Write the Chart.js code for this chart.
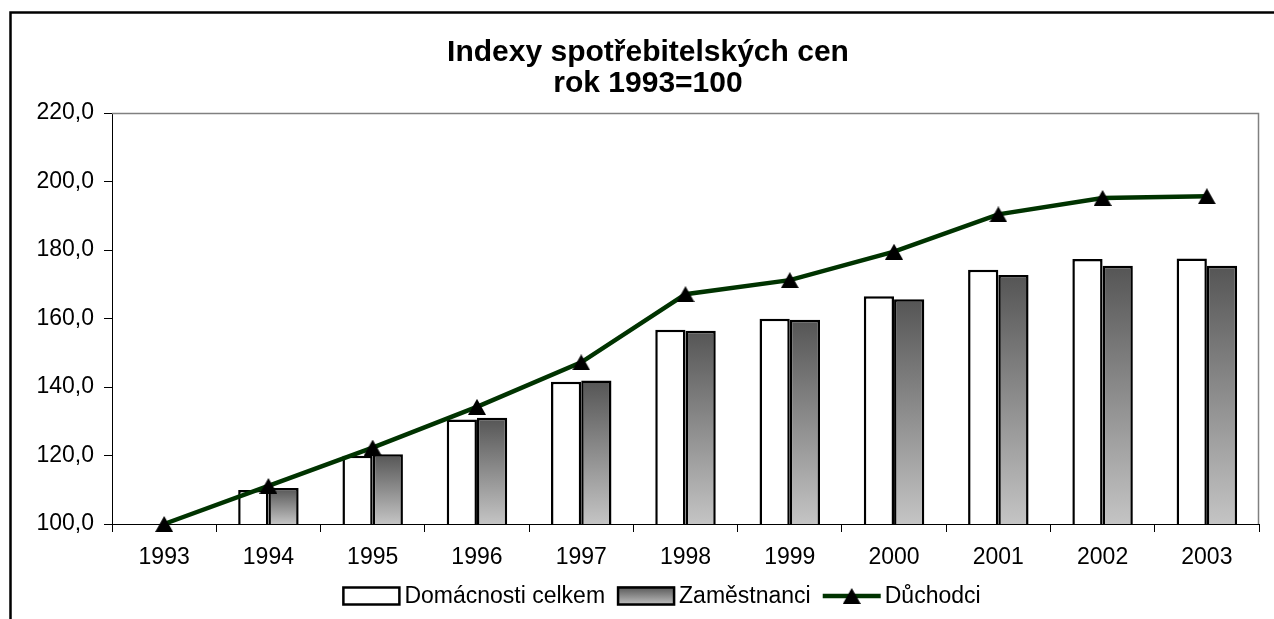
<!DOCTYPE html>
<html>
<head>
<meta charset="utf-8">
<script src="https://cdn.jsdelivr.net/npm/chart.js@4/dist/chart.umd.min.js"></script>
<style>
html,body{margin:0;padding:0;background:#fff;}
#wrap{position:relative;width:1274px;height:619px;}
</style>
</head>
<body>
<div id="wrap"><canvas id="c" width="1274" height="619"></canvas></div>
<script>
// ---- data ----
const years = ['1993','1994','1995','1996','1997','1998','1999','2000','2001','2002','2003'];
const domacnosti = [100.0, 109.9, 119.9, 130.5, 141.5, 156.7, 159.9, 166.5, 174.2, 177.4, 177.5];
const zamestnanci = [100.0, 110.5, 120.4, 131.0, 141.9, 156.4, 159.6, 165.6, 172.7, 175.4, 175.4];
const duchodci = [100.0, 111.1, 122.3, 134.2, 147.2, 167.1, 171.2, 179.5, 190.4, 195.2, 195.7];
const seriesNames = ['Domácnosti celkem', 'Zaměstnanci', 'Důchodci'];
const titleLines = ['Indexy spotřebitelských cen', 'rok 1993=100'];
const yMin = 100, yMax = 220, yStep = 20;

const FONT = '"Liberation Sans", Arial, sans-serif';
const LINE_COLOR = '#003300';
const GRAD_TOP = '#555555', GRAD_BOT = '#c4c4c4';

// triangle marker (centered by bounding box, as in the original)
function makeTriangle(w, h) {
  const cv = document.createElement('canvas');
  cv.width = w; cv.height = h;
  const g = cv.getContext('2d');
  g.fillStyle = '#000';
  g.beginPath();
  g.moveTo(w / 2, 0);
  g.lineTo(w, h);
  g.lineTo(0, h);
  g.closePath();
  g.fill();
  return cv;
}
const tri = makeTriangle(18, 16);

function barGradient(context) {
  const chart = context.chart;
  const ys = chart.scales && chart.scales.y;
  if (!chart.chartArea || !ys || context.type !== 'data') return '#888888';
  const top = ys.getPixelForValue(context.raw);
  const bot = ys.getPixelForValue(ys.min);
  if (!isFinite(top) || !isFinite(bot) || bot - top < 1) return GRAD_BOT;
  const g = chart.ctx.createLinearGradient(0, top, 0, bot);
  g.addColorStop(0, GRAD_TOP);
  g.addColorStop(1, GRAD_BOT);
  return g;
}

const framePlugin = {
  id: 'frame',
  beforeDraw(chart) {
    const c = chart.ctx;
    c.save();
    c.fillStyle = '#fff';
    c.fillRect(0, 0, chart.width, chart.height);
    c.strokeStyle = '#000';
    c.lineWidth = 2.5;
    c.beginPath();
    c.moveTo(10.5, chart.height + 5);
    c.lineTo(10.5, 12.5);
    c.lineTo(chart.width + 5, 12.5);
    c.stroke();
    c.restore();
  },
  beforeDatasetsDraw(chart) {
    const a = chart.chartArea, c = chart.ctx;
    c.save();
    c.strokeStyle = '#808080';
    c.lineWidth = 1.5;
    c.beginPath();
    c.moveTo(a.left, a.top + 0.5);
    c.lineTo(a.right - 0.5, a.top + 0.5);
    c.lineTo(a.right - 0.5, a.bottom);
    c.stroke();
    c.restore();
  }
};

const legendPlugin = {
  id: 'customLegend',
  afterDraw(chart) {
    const c = chart.ctx, a = chart.chartArea;
    const ds = chart.data.datasets;
    const order = [0, 1, 2];
    c.save();
    c.font = '23px ' + FONT;
    const boxW = 58, boxH = 19, gapText = 4, gapItem = 12;
    const widths = order.map(i => boxW + gapText + c.measureText(ds[i].label).width);
    const total = widths.reduce((s, w) => s + w, 0) + gapItem * (order.length - 1);
    const cx = (a.left + a.right) / 2 - 24;
    const yc = a.bottom + 72;
    let x = cx - total / 2;
    order.forEach((i, k) => {
      const d = ds[i];
      if (d.type === 'line') {
        c.strokeStyle = LINE_COLOR;
        c.lineWidth = 4.5;
        c.beginPath();
        c.moveTo(x, yc);
        c.lineTo(x + boxW, yc);
        c.stroke();
        c.drawImage(tri, x + boxW / 2 - tri.width / 2, yc - tri.height / 2);
      } else {
        const top = yc - boxH / 2;
        if (i === 1) {
          const g = c.createLinearGradient(0, top, 0, top + boxH);
          g.addColorStop(0, GRAD_TOP);
          g.addColorStop(1, GRAD_BOT);
          c.fillStyle = g;
        } else {
          c.fillStyle = '#ffffff';
        }
        c.fillRect(x, top, boxW, boxH);
        c.strokeStyle = '#000';
        c.lineWidth = 2.5;
        c.strokeRect(x + 1, top + 1, boxW - 2, boxH - 2);
      }
      c.fillStyle = '#000';
      c.textBaseline = 'middle';
      c.textAlign = 'left';
      c.fillText(d.label, x + boxW + gapText, yc + 1);
      x += widths[k] + gapItem;
    });
    c.restore();
  }
};

new Chart(document.getElementById('c'), {
  data: {
    labels: years,
    datasets: [
      {
        type: 'bar',
        label: seriesNames[0],
        data: domacnosti,
        backgroundColor: '#ffffff',
        borderColor: '#000000',
        borderWidth: 2.5,
        order: 1
      },
      {
        type: 'bar',
        label: seriesNames[1],
        data: zamestnanci,
        backgroundColor: barGradient,
        borderColor: '#000000',
        borderWidth: 2.5,
        order: 1
      },
      {
        type: 'line',
        label: seriesNames[2],
        data: duchodci,
        borderColor: LINE_COLOR,
        borderWidth: 4.5,
        tension: 0,
        pointStyle: tri,
        pointRadius: 9,
        pointHoverRadius: 9,
        pointBackgroundColor: '#000',
        pointBorderColor: '#000',
        clip: false,
        order: 0
      }
    ]
  },
  options: {
    responsive: false,
    animation: false,
    events: [],
    layout: { padding: { left: 37, right: 15, top: 0, bottom: 35 } },
    datasets: {
      bar: { categoryPercentage: 0.58, barPercentage: 1.0 }
    },
    plugins: {
      legend: { display: false },
      tooltip: { enabled: false },
      title: {
        display: true,
        text: titleLines,
        color: '#000',
        font: { family: FONT, size: 30, weight: 'bold', lineHeight: 31 / 30 },
        padding: { top: 37, bottom: 14 }
      }
    },
    scales: {
      x: {
        offset: true,
        grid: {
          offset: true,
          drawOnChartArea: false,
          drawTicks: true,
          tickLength: 8,
          color: '#000',
          lineWidth: 1
        },
        border: { display: true, color: '#000', width: 1 },
        ticks: {
          color: '#000',
          font: { family: FONT, size: 23 },
          padding: 12,
          maxRotation: 0,
          autoSkip: false
        },
        afterFit(s) { s.height = 60; }
      },
      y: {
        min: yMin,
        max: yMax,
        grid: {
          drawOnChartArea: false,
          drawTicks: true,
          tickLength: 8,
          color: '#000',
          lineWidth: 1
        },
        border: { display: true, color: '#000', width: 1 },
        ticks: {
          stepSize: yStep,
          color: '#000',
          font: { family: FONT, size: 23 },
          padding: 10,
          callback: v => Number(v).toFixed(1).replace('.', ',')
        },
        afterFit(s) { s.width = 75; }
      }
    }
  },
  plugins: [framePlugin, legendPlugin]
});
</script>
</body>
</html>
